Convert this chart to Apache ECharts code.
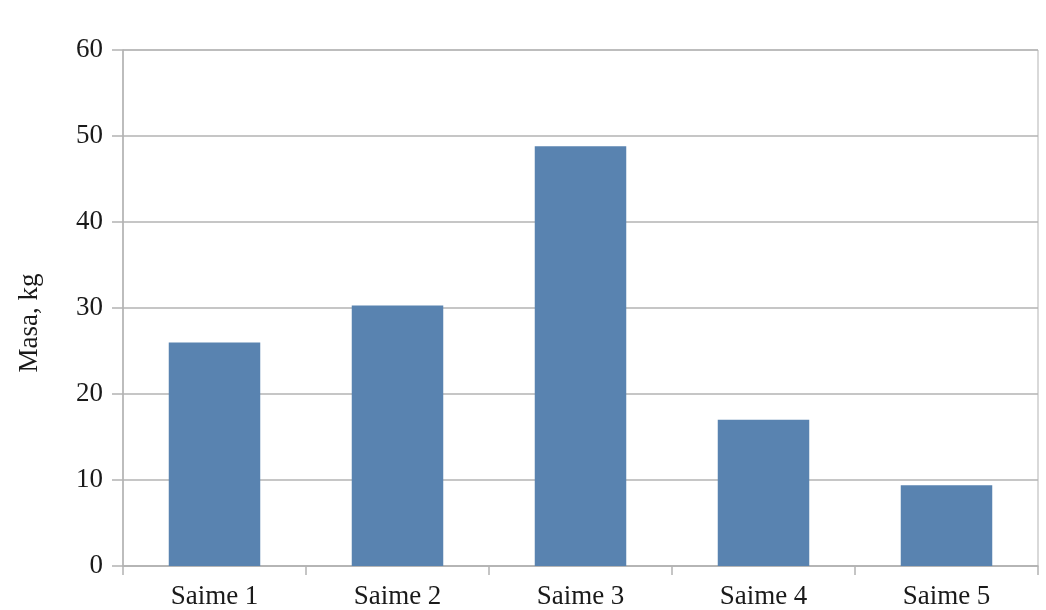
<!DOCTYPE html>
<html>
<head>
<meta charset="utf-8">
<script src="https://cdn.jsdelivr.net/npm/echarts@6/dist/echarts.min.js"></script>
<style>
  html, body { margin: 0; padding: 0; background: #ffffff; }
  #chart { width: 1046px; height: 610px; }
</style>
</head>
<body>
<div id="chart"></div>
<script>
// Mass per family member
const categories = ['Saime 1', 'Saime 2', 'Saime 3', 'Saime 4', 'Saime 5'];
const masses = [26.0, 30.3, 48.8, 17.0, 9.4];
const axisTitle = 'Masa, kg';

const textFont = '"Liberation Serif", "DejaVu Serif", serif';
const lineColor = '#b3b3b3';
const textColor = '#1a1a1a';

const chart = echarts.init(document.getElementById('chart'), null, { renderer: 'canvas' });
chart.setOption({
  animation: false,
  backgroundColor: '#ffffff',
  grid: { left: 123, right: 8, top: 50, bottom: 44, containLabel: false,
          show: true, borderColor: lineColor, borderWidth: 1 },
  xAxis: {
    type: 'category',
    data: categories,
    boundaryGap: true,
    axisLine: { show: true, lineStyle: { color: lineColor, width: 1.5 } },
    axisTick: { show: true, length: 9, lineStyle: { color: lineColor, width: 1.5 } },
    axisLabel: { color: textColor, fontFamily: textFont, fontSize: 27, margin: 17 },
    splitLine: { show: false }
  },
  yAxis: {
    type: 'value',
    min: 0, max: 60, interval: 10,
    name: axisTitle,
    nameLocation: 'middle',
    nameGap: 80,
    nameTextStyle: { color: textColor, fontFamily: textFont, fontSize: 27, padding: [0, 30, 0, 0] },
    axisLine: { show: true, lineStyle: { color: lineColor, width: 1.5 } },
    axisTick: { show: true, length: 11, lineStyle: { color: lineColor, width: 1.5 } },
    axisLabel: { color: textColor, fontFamily: textFont, fontSize: 27, margin: 20 },
    splitLine: { show: true, lineStyle: { color: lineColor, width: 1.5 } }
  },
  series: [{
    type: 'bar',
    data: masses,
    barWidth: '50%',
    itemStyle: { color: '#5983b0' }
  }]
});
</script>
</body>
</html>
